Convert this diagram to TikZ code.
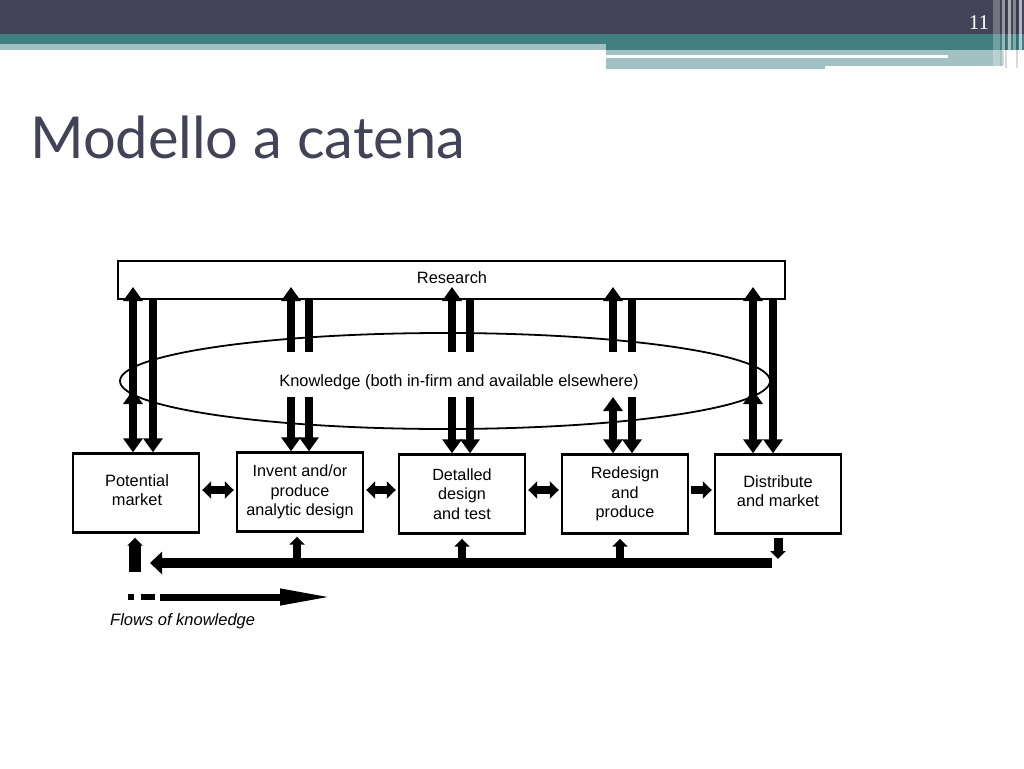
\documentclass[tikz,border=0pt]{standalone}
\usepackage{fontspec}
\setmainfont{Liberation Sans}
\newfontfamily\titlefont{Lato}
\newfontfamily\numfont{Liberation Serif}
\usetikzlibrary{arrows.meta,calc,shapes.geometric}
\definecolor{hdrdark}{RGB}{66,67,86}
\definecolor{hdrteal}{RGB}{66,127,129}
\definecolor{hdrlight}{RGB}{163,192,195}
\definecolor{titlecol}{RGB}{66,67,86}
\tikzset{
  box/.style={draw, line width=2.4pt, minimum width=126pt, minimum height=79pt, align=center,
    font=\fontsize{16.2}{19.5}\selectfont, inner sep=0pt},
  fatarrow/.style={line width=8pt, -{Triangle[width=19pt,length=14pt]}},
  fatdouble/.style={line width=8pt, {Triangle[width=19pt,length=14pt]}-{Triangle[width=19pt,length=14pt]}},
  fatbar/.style={line width=8pt},
  hdouble/.style={line width=8pt, {Triangle[width=17pt,length=9pt]}-{Triangle[width=17pt,length=9pt]}, shorten <=2pt, shorten >=2pt},
  hsingle/.style={line width=8pt, -{Triangle[width=17pt,length=9pt]}, shorten <=2pt, shorten >=2pt},
  feedup/.style={line width=8pt, -{Triangle[width=15pt,length=8pt]}},
  txt/.style={font=\fontsize{16.4}{19}\selectfont, inner sep=0pt}
}
\begin{document}
\begin{tikzpicture}[x=1pt,y=-1pt]
\useasboundingbox (0,0) rectangle (1024,768);
\fill[white] (0,0) rectangle (1024,768);
% header
\fill[hdrdark] (0,0) rectangle (1024,34);
\fill[hdrteal] (0,34) rectangle (1024,44);
\fill[hdrlight] (0,44) rectangle (606,50);
\fill[hdrteal] (606,44) rectangle (1024,50);
\fill[hdrlight] (606,50) rectangle (1004,66);
\fill[white] (606,55) rectangle (948,58);
\fill[hdrlight] (606,66) rectangle (825,69);
\fill[white,opacity=0.25] (993,0) rectangle (1000,68);
\fill[white,opacity=0.45] (1002,0) rectangle (1005,68);
\fill[black,opacity=0.15] (1005,0) rectangle (1007,68);
\fill[white,opacity=0.55] (1008,0) rectangle (1011,68);
\fill[white,opacity=0.35] (1013,0) rectangle (1016,68);
\fill[black,opacity=0.15] (1016,0) rectangle (1018,68);
\fill[white,opacity=0.6] (1019,0) rectangle (1022,68);
\node[text=white, font=\numfont\fontsize{21}{21}\selectfont, inner sep=0pt] (pg) at (979,23) {11};
% title
\node[anchor=base west, text=titlecol, font=\titlefont\fontsize{57.8}{57.8}\selectfont, inner sep=0pt] (title) at (30,158) {Modello a catena};

% level coordinates
\coordinate (ytop) at (0,287);
\coordinate (yup) at (0,352);
\coordinate (ylo) at (0,397);
\coordinate (ymA) at (0,414);
\coordinate (ymB) at (0,390);
\coordinate (yh) at (0,490);
\coordinate (yb) at (0,563);

% research and knowledge
\node[draw, line width=2pt, minimum width=667pt, minimum height=38pt, inner sep=0pt] (res) at (451.5,280) {};
\node[txt] (restext) at (452,278) {Research};
\node[ellipse, draw, line width=1.8pt, minimum width=650pt, minimum height=96pt, inner sep=0pt] (know) at (445,381) {};
\node[txt] (ktext) at (459,382) {Knowledge (both in-firm and available elsewhere)};

% boxes
\node[box] (pm) at (136,493) {};
\node[txt, align=center] (pmtext) at (137,490) {Potential\\market};
\node[box] (inv) at (300,492) {Invent and/or\\produce\\analytic design};
\node[box] (det) at (462,494) {Detalled\\design\\and test};
\node[box] (red) at (625,494) {Redesign\\and\\produce};
\node[box] (dis) at (778,494) {};
\node[txt, align=center] (distext) at (778,491) {Distribute\\and market};

% column 1
\draw[fatdouble] ([xshift=-3pt]pm.north) -- ([xshift=-3pt]pm.north |- ytop);
\draw[fatarrow] ([xshift=-3pt]pm.north |- ymA) -- ([xshift=-3pt]pm.north |- ymB);
\draw[fatarrow] ([xshift=17pt]pm.north |- res.south) -- ([xshift=17pt]pm.north);
% column 2
\draw[fatarrow] ([xshift=-9pt]inv.north |- yup) -- ([xshift=-9pt]inv.north |- ytop);
\draw[fatbar] ([xshift=9pt]inv.north |- res.south) -- ([xshift=9pt]inv.north |- yup);
\draw[fatarrow] ([xshift=-9pt]inv.north |- ylo) -- ([xshift=-9pt]inv.north);
\draw[fatarrow] ([xshift=9pt]inv.north |- ylo) -- ([xshift=9pt]inv.north);
% column 3
\draw[fatarrow] ([xshift=-10pt]det.north |- yup) -- ([xshift=-10pt]det.north |- ytop);
\draw[fatbar] ([xshift=8pt]det.north |- res.south) -- ([xshift=8pt]det.north |- yup);
\draw[fatarrow] ([xshift=-10pt]det.north |- ylo) -- ([xshift=-10pt]det.north);
\draw[fatarrow] ([xshift=8pt]det.north |- ylo) -- ([xshift=8pt]det.north);
% column 4
\draw[fatarrow] ([xshift=-12pt]red.north |- yup) -- ([xshift=-12pt]red.north |- ytop);
\draw[fatbar] ([xshift=7pt]red.north |- res.south) -- ([xshift=7pt]red.north |- yup);
\draw[fatdouble] ([xshift=-12pt]red.north |- ylo) -- ([xshift=-12pt]red.north);
\draw[fatarrow] ([xshift=7pt]red.north |- ylo) -- ([xshift=7pt]red.north);
% column 5
\draw[fatdouble] ([xshift=-25pt]dis.north) -- ([xshift=-25pt]dis.north |- ytop);
\draw[fatarrow] ([xshift=-25pt]dis.north |- ymA) -- ([xshift=-25pt]dis.north |- ymB);
\draw[fatarrow] ([xshift=-5pt]dis.north |- res.south) -- ([xshift=-5pt]dis.north);

% horizontal arrows between boxes
\draw[hdouble] (pm.east |- yh) -- (inv.west |- yh);
\draw[hdouble] (inv.east |- yh) -- (det.west |- yh);
\draw[hdouble] (det.east |- yh) -- (red.west |- yh);
\draw[hsingle] (red.east |- yh) -- (dis.west |- yh);

% feedback
\draw[line width=10pt, -{Triangle[width=22pt,length=12pt]}] ([xshift=-6pt]dis.south |- yb) -- ([xshift=14pt]pm.south |- yb);
\draw[line width=9pt, -{Triangle[width=15pt,length=8pt]}] ([yshift=-3pt]dis.south) -- (dis.south |- 0,559);
\draw[feedup] ([xshift=-3pt]inv.south |- yb) -- ([xshift=-3pt,yshift=-4pt]inv.south);
\draw[feedup] (det.south |- yb) -- ([yshift=-4pt]det.south);
\draw[feedup] ([xshift=-5pt]red.south |- yb) -- ([xshift=-5pt,yshift=-4pt]red.south);
\draw[line width=12pt, -{Triangle[width=15pt,length=8pt]}] ([xshift=-1pt]pm.south |- 0,572) -- ([xshift=-1pt,yshift=-4pt]pm.south);

% legend
\coordinate (lgs) at (160,597);
\coordinate (lge) at (333,597);
\fill (128,594) rectangle (134,600);
\fill (141,594) rectangle (155,600);
\draw[line width=7pt, -{Triangle[width=15pt,length=53pt]}] (lgs) -- (lge);
\node[anchor=west, font=\itshape\fontsize{16.5}{16.5}\selectfont, inner sep=0pt] (lgt) at (110,621) {Flows of knowledge};
\end{tikzpicture}
\end{document}
